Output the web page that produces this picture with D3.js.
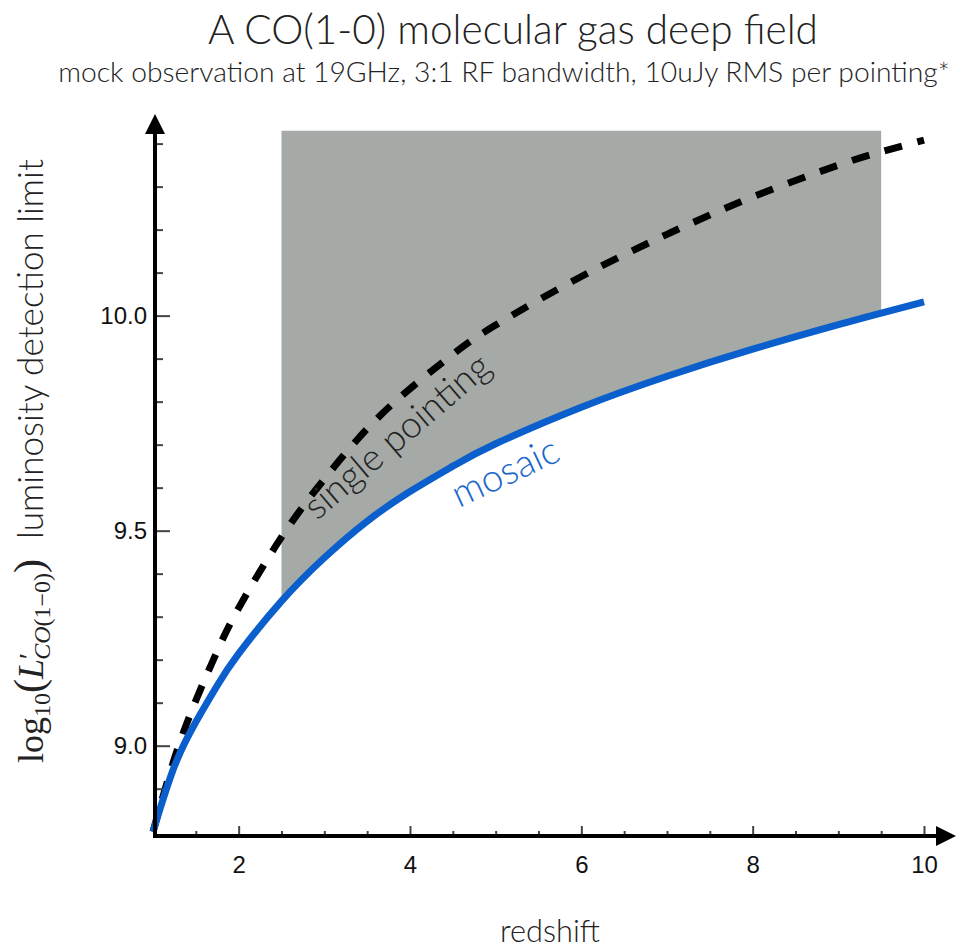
<!DOCTYPE html>
<html>
<head>
<meta charset="utf-8">
<script src="https://cdn.jsdelivr.net/npm/d3@7"></script>
<style>
  body { margin: 0; background: #fff; }
  svg { display: block; }
</style>
</head>
<body>
<svg id="chart"></svg>
<script>
// values
let redshift = [1, 1.25, 1.5, 1.75, 2, 2.5, 3, 3.5, 4, 4.5, 5, 6, 7, 8, 9, 9.5, 10];
let mosaic = [8.80, 8.952, 9.055, 9.14, 9.214, 9.336, 9.437, 9.522, 9.591, 9.65, 9.702, 9.787, 9.859, 9.922, 9.979, 10.006, 10.032];
let singlePointing = [8.80, 8.97, 9.105, 9.22, 9.32, 9.485, 9.62, 9.737, 9.83, 9.91, 9.978, 10.091, 10.189, 10.276, 10.35, 10.381, 10.408];
let shadeRange = [2.5, 9.5];
let shadeTop = 10.43;
let xTicks = [2, 4, 6, 8, 10];
let xMinor = [1.5, 2.5, 3, 3.5, 4.5, 5, 5.5, 6.5, 7, 7.5, 8.5, 9, 9.5];
let yTicks = [9.0, 9.5, 10.0];
let yMinor = [8.9, 9.1, 9.2, 9.3, 9.4, 9.6, 9.7, 9.8, 9.9, 10.1, 10.2, 10.3, 10.4];

let sans = "Lato, 'Open Sans', sans-serif";
let serif = "'Liberation Serif', 'DejaVu Serif', serif";

function fitWidth(sel, target) {
    let cur = sel.node().getComputedTextLength();
    let fs = parseFloat(sel.attr('font-size'));
    sel.attr('font-size', fs * target / cur);
}

function makeChart() {
    let w = 968;
    let h = 951;

    let svg = d3.select('#chart')
        .attr('width', w)
        .attr('height', h);

    let xScale = d3.scaleLinear()
        .domain([1, 10])
        .range([153, 924]);

    let yScale = d3.scaleLinear()
        .domain([8.79, 10.42])
        .range([836, 135]);

    let data = redshift.map((z, i) => ({ z: z, mosaic: mosaic[i], single: singlePointing[i] }));

    // shaded band above the mosaic curve, clipped to the redshift range
    svg.append('clipPath')
        .attr('id', 'shade-clip')
        .append('rect')
        .attr('x', xScale(shadeRange[0]))
        .attr('width', xScale(shadeRange[1]) - xScale(shadeRange[0]))
        .attr('y', 0)
        .attr('height', h);

    let area = d3.area()
        .curve(d3.curveNatural)
        .x(d => xScale(d.z))
        .y0(d => yScale(d.mosaic))
        .y1(yScale(shadeTop));
    svg.append('path')
        .datum(data)
        .attr('clip-path', 'url(#shade-clip)')
        .attr('fill', '#a5aaa7')
        .attr('d', area);

    let singleLine = d3.line()
        .curve(d3.curveNatural)
        .x(d => xScale(d.z))
        .y(d => yScale(d.single));
    svg.append('path')
        .datum(data)
        .attr('fill', 'none')
        .attr('stroke', '#000')
        .attr('stroke-width', 7)
        .attr('stroke-dasharray', '18,16')
        .attr('d', singleLine);

    let mosaicLine = d3.line()
        .curve(d3.curveNatural)
        .x(d => xScale(d.z))
        .y(d => yScale(d.mosaic));
    svg.append('path')
        .datum(data)
        .attr('fill', 'none')
        .attr('stroke', '#0a5fcc')
        .attr('stroke-width', 7)
        .attr('d', mosaicLine);

    // axes
    let x0 = xScale(1);
    let y0 = yScale.range()[0];

    let xAxis = d3.axisBottom(xScale)
        .tickValues(xTicks)
        .tickSizeInner(-10)
        .tickSizeOuter(0)
        .tickPadding(20)
        .tickFormat(d3.format('d'));
    let xMinorAxis = d3.axisBottom(xScale)
        .tickValues(xMinor)
        .tickSizeInner(-5)
        .tickSizeOuter(0)
        .tickFormat('');
    let yAxis = d3.axisLeft(yScale)
        .tickValues(yTicks)
        .tickSizeInner(-15)
        .tickSizeOuter(0)
        .tickPadding(8)
        .tickFormat(d3.format('.1f'));
    let yMinorAxis = d3.axisLeft(yScale)
        .tickValues(yMinor)
        .tickSizeInner(-8)
        .tickSizeOuter(0)
        .tickFormat('');

    [xAxis, xMinorAxis].forEach(a => {
        svg.append('g')
            .attr('class', 'axis')
            .attr('transform', `translate(0, ${y0})`)
            .call(a);
    });
    [yAxis, yMinorAxis].forEach(a => {
        svg.append('g')
            .attr('class', 'axis')
            .attr('transform', `translate(${x0 + 2}, 0)`)
            .call(a);
    });
    svg.selectAll('.axis .domain').remove();
    svg.selectAll('.axis line')
        .attr('stroke', '#444')
        .attr('stroke-width', 2);
    svg.selectAll('.axis text')
        .attr('font-family', "'Liberation Sans', Arial, sans-serif")
        .attr('font-size', 24)
        .attr('fill', '#111');

    // axis lines with arrow heads
    svg.append('line')
        .attr('x1', x0 + 2).attr('x2', x0 + 2)
        .attr('y1', y0 + 2).attr('y2', 130)
        .attr('stroke', '#000').attr('stroke-width', 4);
    svg.append('path')
        .attr('d', `M${x0 + 2},114 L${x0 - 8},134 L${x0 + 12},134 Z`)
        .attr('fill', '#000');
    svg.append('line')
        .attr('x1', x0).attr('x2', 940)
        .attr('y1', y0).attr('y2', y0)
        .attr('stroke', '#000').attr('stroke-width', 4);
    svg.append('path')
        .attr('d', `M956,${y0} L936,${y0 - 10} L936,${y0 + 10} Z`)
        .attr('fill', '#000');

    // curve labels
    let sp = svg.append('text')
        .attr('transform', 'translate(317, 521) rotate(-40.5)')
        .attr('font-family', sans)
        .attr('font-weight', 300)
        .attr('font-size', 34)
        .attr('fill', '#222')
        .text('single pointing');
    fitWidth(sp, 232);
    let mo = svg.append('text')
        .attr('transform', 'translate(459, 508) rotate(-25)')
        .attr('font-family', sans)
        .attr('font-weight', 300)
        .attr('font-size', 34)
        .attr('fill', '#1a66cc')
        .text('mosaic');
    fitWidth(mo, 114);

    // titles
    let title = svg.append('text')
        .attr('x', 513).attr('y', 44)
        .attr('text-anchor', 'middle')
        .attr('font-family', sans)
        .attr('font-weight', 300)
        .attr('font-size', 36)
        .attr('fill', '#222')
        .text('A CO(1-0) molecular gas deep field');
    fitWidth(title, 610);

    let subtitle = svg.append('text')
        .attr('x', 504).attr('y', 82)
        .attr('text-anchor', 'middle')
        .attr('font-family', sans)
        .attr('font-weight', 300)
        .attr('font-size', 24)
        .attr('fill', '#222')
        .text('mock observation at 19GHz, 3:1 RF bandwidth, 10uJy RMS per pointing*');
    fitWidth(subtitle, 892);

    let xLabel = svg.append('text')
        .attr('x', 550).attr('y', 942)
        .attr('text-anchor', 'middle')
        .attr('font-family', sans)
        .attr('font-weight', 300)
        .attr('font-size', 30)
        .attr('fill', '#222')
        .text('redshift');
    fitWidth(xLabel, 100);

    // y label: math part in serif, words in sans
    let yLabel = svg.append('text')
        .attr('transform', 'translate(43, 763) rotate(-90)')
        .attr('fill', '#222')
        .attr('font-family', serif)
        .attr('font-size', 36);
    yLabel.append('tspan').text('log');
    yLabel.append('tspan').attr('font-size', 24).attr('dy', 7).text('10');
    yLabel.append('tspan').attr('font-size', 42).attr('dy', -7).text('(');
    yLabel.append('tspan').attr('font-style', 'italic').text('L');
    yLabel.append('tspan').attr('font-size', 28).attr('dy', -5).text('′');
    yLabel.append('tspan').attr('font-size', 24).attr('font-style', 'italic').attr('dy', 12).attr('dx', -7).text('CO');
    yLabel.append('tspan').attr('font-size', 24).text('(1−0)');
    yLabel.append('tspan').attr('font-size', 42).attr('dy', -7).text(')');
    let words = yLabel.append('tspan')
        .attr('font-family', sans)
        .attr('font-weight', 300)
        .attr('font-size', 32)
        .attr('dx', 20)
        .text('luminosity detection limit');
    fitWidth(words, 380);
}

window.onload = function() {
    makeChart();
}
</script>
</body>
</html>
